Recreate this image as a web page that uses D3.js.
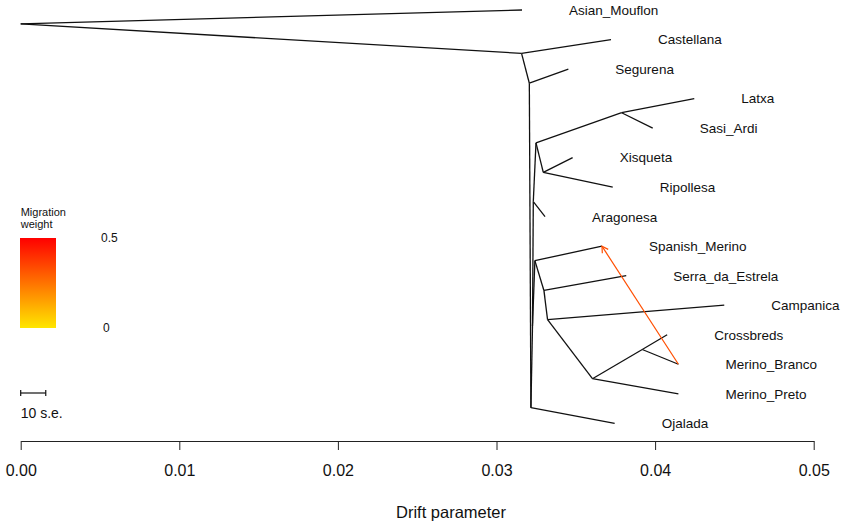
<!DOCTYPE html>
<html>
<head>
<meta charset="utf-8">
<script src="https://cdn.jsdelivr.net/npm/d3@7"></script>
<style>
    body { margin: 0; background: #fff; }
    svg { display: block; font-family: "Liberation Sans", Arial, sans-serif; }
</style>
</head>
<body>
<svg width="844" height="525"></svg>
<script>
// Tree nodes: name, cumulative drift, vertical row (tips are rows 0..14)
var nodeNames = ['root', 'A', 'B', 'C', 'D', 'NA', 'N1', 'N2', 'N3', 'M1', 'M2', 'M3', 'M4', 'M5',
    'Asian_Mouflon', 'Castellana', 'Segurena', 'Latxa', 'Sasi_Ardi', 'Xisqueta', 'Ripollesa', 'Aragonesa',
    'Spanish_Merino', 'Serra_da_Estrela', 'Campanica', 'Crossbreds', 'Merino_Branco', 'Merino_Preto', 'Ojalada'];
var nodeDrift = [0, 0.03158, 0.03207, 0.03217, 0.03227, 0.03232, 0.03249, 0.03789, 0.03295, 0.03242, 0.03299, 0.03322, 0.03605, 0.03919,
    0.03161, 0.03722, 0.03453, 0.04247, 0.03985, 0.03480, 0.03733, 0.03306,
    0.03665, 0.03818, 0.04436, 0.04076, 0.04147, 0.04147, 0.03745];
var nodeRow = [0.47, 1.47, 2.48, 13.47, 10.7, 6.49, 4.5, 3.48, 5.5, 8.49, 9.5, 10.49, 12.49, 11.5,
    0, 1, 2, 3, 4, 5, 6, 7, 8, 9, 10, 11, 12, 13, 14];
var tipNames = nodeNames.slice(14);

// Edges of the tree (parent -> child)
var edgeParent = ['root', 'root', 'A', 'A', 'B', 'B', 'C', 'C', 'D', 'D', 'NA', 'NA', 'N1', 'N1', 'N2', 'N2', 'N3', 'N3',
    'M1', 'M1', 'M2', 'M2', 'M3', 'M3', 'M4', 'M4', 'M5', 'M5'];
var edgeChild = ['Asian_Mouflon', 'A', 'Castellana', 'B', 'Segurena', 'C', 'Ojalada', 'D', 'NA', 'M1', 'Aragonesa', 'N1', 'N2', 'N3',
    'Latxa', 'Sasi_Ardi', 'Xisqueta', 'Ripollesa', 'Spanish_Merino', 'M2', 'Serra_da_Estrela', 'M3', 'Campanica', 'M4',
    'M5', 'Merino_Preto', 'Crossbreds', 'Merino_Branco'];

// Migration edge
var migFrom = ['Merino_Branco'];
var migTo = ['Spanish_Merino'];
var migWeight = [0.33];

var xTicks = [0, 0.01, 0.02, 0.03, 0.04, 0.05];
var legendTicks = [0, 0.5];
var seLength = 0.00158; // drift length of 10 s.e.

var svg = d3.select('svg');

var x = d3.scaleLinear().domain([0, 0.05]).range([20.7, 813.7]);
var y = d3.scaleLinear().domain([0, 14]).range([10, 423.3]);
var weightColor = d3.scaleLinear().domain([0, 0.5]).range(['#ffe600', '#ff0000']);

var nodes = {};
nodeNames.forEach(function(n, i) {
    nodes[n] = { drift: nodeDrift[i], row: nodeRow[i] };
});

// tree edges
svg.append('g').selectAll('line')
    .data(edgeParent.map(function(p, i) { return [p, edgeChild[i]]; }))
    .enter().append('line')
    .attr('x1', function(d) { return x(nodes[d[0]].drift); })
    .attr('y1', function(d) { return y(nodes[d[0]].row); })
    .attr('x2', function(d) { return x(nodes[d[1]].drift); })
    .attr('y2', function(d) { return y(nodes[d[1]].row); })
    .attr('stroke', '#111')
    .attr('stroke-width', 1.3);

// tip labels
svg.append('g').selectAll('text')
    .data(tipNames)
    .enter().append('text')
    .attr('x', function(d) { return x(nodes[d].drift) + 47; })
    .attr('y', function(d) { return y(nodes[d].row); })
    .attr('dy', '0.36em')
    .attr('font-size', 13.5)
    .attr('fill', '#111')
    .text(function(d) { return d; });

// migration arrows
migFrom.forEach(function(f, i) {
    var x1 = x(nodes[f].drift), y1 = y(nodes[f].row);
    var x2 = x(nodes[migTo[i]].drift), y2 = y(nodes[migTo[i]].row);
    var col = weightColor(migWeight[i]);
    var ang = Math.atan2(y2 - y1, x2 - x1);
    var len = 7, spread = Math.PI / 6;
    var g = svg.append('g').attr('stroke', col).attr('stroke-width', 1.2).attr('fill', 'none');
    g.append('line').attr('x1', x1).attr('y1', y1).attr('x2', x2).attr('y2', y2);
    g.append('path')
        .attr('d', 'M' + [x2 - len * Math.cos(ang - spread), y2 - len * Math.sin(ang - spread)] +
            'L' + [x2, y2] +
            'L' + [x2 - len * Math.cos(ang + spread), y2 - len * Math.sin(ang + spread)]);
});

// x axis
var xAxis = d3.axisBottom(x).tickValues(xTicks).tickFormat(d3.format('.2f'))
    .tickSize(9).tickSizeOuter(0).tickPadding(15);
var axisG = svg.append('g')
    .attr('transform', 'translate(0,441)')
    .call(xAxis);
axisG.selectAll('path, line').attr('stroke', '#222');
axisG.selectAll('text').attr('font-size', 16).attr('fill', '#111')
    .attr('font-family', '"Liberation Sans", Arial, sans-serif');

svg.append('text')
    .attr('x', 451)
    .attr('y', 518)
    .attr('text-anchor', 'middle')
    .attr('font-size', 16.5)
    .attr('fill', '#111')
    .text('Drift parameter');

// migration weight legend
var grad = svg.append('defs').append('linearGradient')
    .attr('id', 'wgrad')
    .attr('x1', 0).attr('y1', 1).attr('x2', 0).attr('y2', 0);
d3.range(0, 1.01, 0.1).forEach(function(t) {
    grad.append('stop')
        .attr('offset', t)
        .attr('stop-color', weightColor(t * 0.5));
});

var legY = d3.scaleLinear().domain([0, 0.5]).range([328, 238]);

svg.append('text').attr('x', 20.7).attr('y', 216).attr('font-size', 11).attr('fill', '#111').text('Migration');
svg.append('text').attr('x', 20.7).attr('y', 228).attr('font-size', 11).attr('fill', '#111').text('weight');

svg.append('rect')
    .attr('x', 20)
    .attr('y', legY(0.5))
    .attr('width', 36)
    .attr('height', legY(0) - legY(0.5))
    .attr('fill', 'url(#wgrad)');

svg.append('g').selectAll('text')
    .data(legendTicks)
    .enter().append('text')
    .attr('x', function(d) { return d === 0 ? 103 : 101; })
    .attr('y', function(d) { return legY(d); })
    .attr('dy', '0.36em')
    .attr('font-size', 12)
    .attr('fill', '#111')
    .text(function(d) { return d; });

// 10 s.e. scale bar
var sb = svg.append('g').attr('stroke', '#111').attr('stroke-width', 1.2);
sb.append('line').attr('x1', x(0)).attr('x2', x(seLength)).attr('y1', 393).attr('y2', 393);
sb.append('line').attr('x1', x(0)).attr('x2', x(0)).attr('y1', 390).attr('y2', 396);
sb.append('line').attr('x1', x(seLength)).attr('x2', x(seLength)).attr('y1', 390).attr('y2', 396);

svg.append('text')
    .attr('x', 20.7)
    .attr('y', 413)
    .attr('dy', '0.36em')
    .attr('font-size', 14)
    .attr('fill', '#111')
    .text('10 s.e.');
</script>
</body>
</html>
